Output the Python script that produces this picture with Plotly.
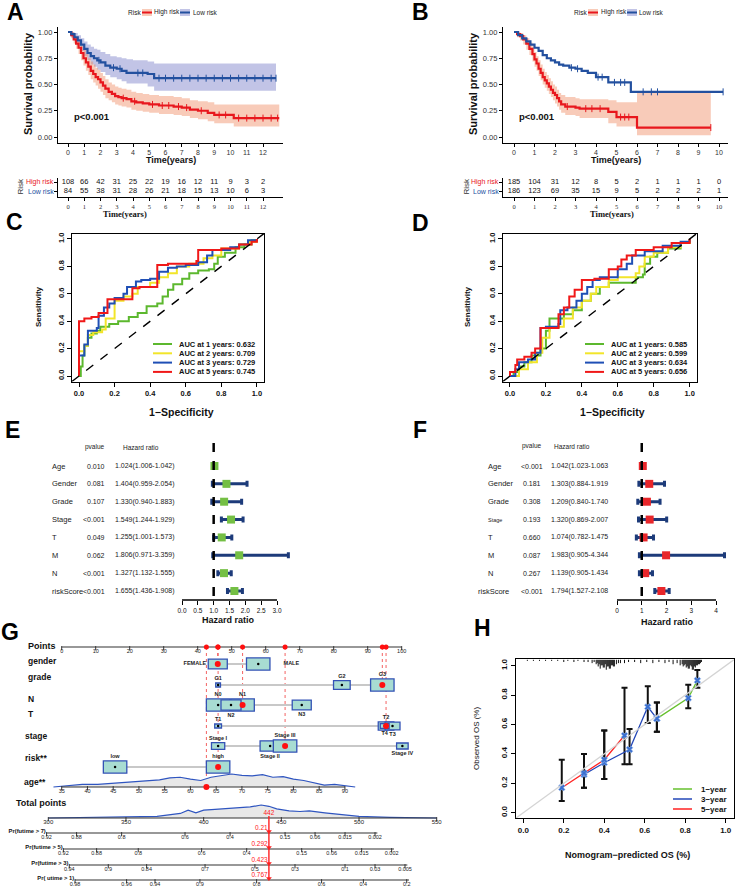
import plotly.graph_objects as go

W, H = 735, 887
FONT = "Liberation Sans"
NARROW = "Liberation Sans Narrow"
RED = "#e8171d"
BLUE = "#23509f"
HIGH_BAND = "rgba(240,140,100,0.45)"
LOW_BAND = "rgba(110,115,195,0.42)"

# ========================= DATA =========================
# ---- Panel A : Kaplan-Meier ----
kmA_high_t = [0, 0.2, 0.35, 0.5, 0.65, 0.8, 0.95, 1.1, 1.25, 1.4, 1.55, 1.7, 1.85, 2.0, 2.15, 2.3, 2.5, 2.7, 2.9, 3.1,
              3.3, 3.6, 3.9, 4.2, 4.6, 5.0, 5.6, 6.5, 7.0, 7.5, 8.0, 8.6, 9.0, 10.2, 13.0]
kmA_high_s = [1.0, 0.97, 0.93, 0.89, 0.85, 0.80, 0.75, 0.71, 0.67, 0.63, 0.60, 0.57, 0.55, 0.52, 0.49, 0.46, 0.43, 0.41, 0.39, 0.38,
              0.37, 0.36, 0.34, 0.33, 0.32, 0.31, 0.30, 0.29, 0.28, 0.26, 0.25, 0.23, 0.21, 0.18, 0.18]
kmA_high_up = [1.0, 1.0, 0.97, 0.94, 0.91, 0.87, 0.83, 0.79, 0.75, 0.72, 0.69, 0.66, 0.64, 0.61, 0.58, 0.55, 0.52, 0.50, 0.48, 0.47,
               0.46, 0.45, 0.43, 0.42, 0.41, 0.40, 0.39, 0.38, 0.37, 0.35, 0.34, 0.33, 0.31, 0.31, 0.31]
kmA_high_lo = [1.0, 0.94, 0.89, 0.84, 0.79, 0.73, 0.68, 0.63, 0.59, 0.55, 0.52, 0.49, 0.46, 0.43, 0.40, 0.37, 0.35, 0.33, 0.31, 0.30,
               0.29, 0.28, 0.26, 0.25, 0.24, 0.23, 0.22, 0.21, 0.20, 0.18, 0.17, 0.15, 0.13, 0.10, 0.10]
kmA_high_cens = [3.4, 4.1, 5.2, 5.8, 6.2, 6.8, 7.3, 8.2, 9.3, 9.7, 10.5, 11.0, 11.5, 12.0, 12.5, 12.9]
kmA_low_t = [0, 0.2, 0.4, 0.6, 0.8, 1.0, 1.2, 1.4, 1.6, 1.8, 2.0, 2.3, 2.6, 3.0, 3.3, 3.6, 4.0, 4.9, 5.3, 12.8]
kmA_low_s = [1.0, 0.98, 0.95, 0.92, 0.88, 0.84, 0.80, 0.77, 0.75, 0.73, 0.71, 0.68, 0.66, 0.65, 0.63, 0.61, 0.61, 0.60, 0.56, 0.56]
kmA_low_up = [1.0, 1.0, 0.99, 0.97, 0.94, 0.91, 0.88, 0.86, 0.84, 0.83, 0.81, 0.79, 0.77, 0.76, 0.75, 0.74, 0.73, 0.72, 0.70, 0.70]
kmA_low_lo = [1.0, 0.95, 0.91, 0.87, 0.82, 0.77, 0.73, 0.69, 0.67, 0.64, 0.62, 0.59, 0.57, 0.55, 0.53, 0.51, 0.51, 0.48, 0.44, 0.44]
kmA_low_cens = [1.9, 2.8, 3.2, 4.3, 4.6, 5.6, 6.0, 6.5, 7.0, 7.5, 8.0, 8.5, 9.0, 9.5, 10.0, 10.5, 11.0, 11.5, 12.0, 12.5, 12.8]

# ---- Panel B : Kaplan-Meier ----
kmB_high_t = [0, 0.15, 0.3, 0.45, 0.6, 0.75, 0.9, 1.0, 1.1, 1.2, 1.3, 1.4, 1.5, 1.6, 1.7, 1.8, 1.9, 2.0, 2.1, 2.2,
              2.3, 2.5, 3.0, 3.2, 4.6, 5.0, 6.0, 9.6]
kmB_high_s = [1.0, 0.98, 0.96, 0.93, 0.89, 0.84, 0.79, 0.74, 0.70, 0.65, 0.61, 0.57, 0.54, 0.51, 0.48, 0.45, 0.42, 0.40, 0.37, 0.34,
              0.31, 0.29, 0.28, 0.27, 0.24, 0.19, 0.09, 0.09]
kmB_high_up = [1.0, 1.0, 0.99, 0.97, 0.94, 0.90, 0.86, 0.81, 0.77, 0.73, 0.69, 0.65, 0.62, 0.59, 0.56, 0.53, 0.50, 0.48, 0.45, 0.42,
               0.40, 0.38, 0.37, 0.36, 0.35, 0.33, 0.43, 0.43]
kmB_high_lo = [1.0, 0.95, 0.92, 0.88, 0.83, 0.78, 0.72, 0.67, 0.63, 0.58, 0.54, 0.50, 0.47, 0.44, 0.41, 0.38, 0.35, 0.32, 0.29, 0.26,
               0.23, 0.21, 0.20, 0.18, 0.13, 0.10, 0.016, 0.016]
kmB_high_cens = [2.6, 3.5, 3.8, 4.2, 5.2, 5.4, 5.6, 9.6]
kmB_low_t = [0, 0.2, 0.4, 0.6, 0.8, 1.0, 1.2, 1.4, 1.6, 1.8, 2.0, 2.2, 2.4, 2.7, 3.0, 3.3, 3.6, 4.0, 4.6, 5.7, 10.2]
kmB_low_s = [1.0, 0.97, 0.94, 0.91, 0.88, 0.85, 0.82, 0.78, 0.75, 0.73, 0.71, 0.69, 0.68, 0.66, 0.65, 0.63, 0.61, 0.57, 0.52, 0.43, 0.43]
kmB_low_cens = [2.8, 3.1, 4.1, 4.3, 4.9, 5.2, 5.4, 6.3, 6.7, 7.0, 10.2]

# ---- risk tables ----
riskA_times = list(range(13))
riskA_high = [108, 66, 42, 31, 25, 22, 19, 16, 12, 11, 9, 3, 2]
riskA_low = [84, 55, 38, 31, 28, 26, 21, 18, 15, 13, 10, 6, 3]
riskB_times = list(range(11))
riskB_high = [185, 104, 31, 12, 8, 5, 2, 1, 1, 1, 0]
riskB_low = [186, 123, 69, 35, 15, 9, 5, 2, 2, 2, 1]

# ---- Panel C : time-dependent ROC ----
roc_years = [1, 2, 3, 5]
aucC = [0.632, 0.709, 0.729, 0.745]
rocC_1_x = [0, 0.01, 0.02, 0.03, 0.05, 0.07, 0.10, 0.12, 0.17, 0.22, 0.28, 0.33, 0.38, 0.44, 0.47, 0.50, 0.53, 0.58, 0.62, 0.67, 0.73, 0.76, 0.78, 0.82, 0.88, 0.93, 0.97, 1.0]
rocC_1_y = [0, 0.07, 0.15, 0.22, 0.28, 0.31, 0.33, 0.36, 0.38, 0.40, 0.43, 0.46, 0.51, 0.53, 0.58, 0.63, 0.67, 0.71, 0.75, 0.77, 0.78, 0.82, 0.87, 0.90, 0.94, 0.96, 0.99, 1.0]
rocC_2_x = [0, 0.0, 0.03, 0.05, 0.08, 0.13, 0.15, 0.20, 0.25, 0.30, 0.33, 0.40, 0.45, 0.50, 0.55, 0.62, 0.70, 0.75, 0.80, 0.90, 0.96, 1.0]
rocC_2_y = [0, 0.18, 0.22, 0.30, 0.32, 0.34, 0.42, 0.55, 0.58, 0.60, 0.65, 0.68, 0.72, 0.75, 0.80, 0.82, 0.86, 0.88, 0.93, 0.96, 0.98, 1.0]
rocC_3_x = [0, 0.0, 0.02, 0.03, 0.05, 0.10, 0.11, 0.14, 0.17, 0.20, 0.25, 0.27, 0.32, 0.35, 0.40, 0.45, 0.50, 0.55, 0.60, 0.67, 0.72, 0.75, 0.85, 0.90, 0.95, 1.0]
rocC_3_y = [0, 0.15, 0.15, 0.23, 0.33, 0.35, 0.44, 0.50, 0.53, 0.57, 0.60, 0.65, 0.69, 0.70, 0.71, 0.76, 0.79, 0.80, 0.81, 0.83, 0.88, 0.92, 0.94, 0.96, 0.99, 1.0]
rocC_5_x = [0, 0.0, 0.03, 0.07, 0.11, 0.16, 0.30, 0.34, 0.44, 0.50, 0.60, 0.66, 0.67, 0.80, 0.90, 0.97, 1.0]
rocC_5_y = [0, 0.40, 0.42, 0.43, 0.46, 0.56, 0.64, 0.65, 0.81, 0.82, 0.82, 0.84, 0.92, 0.93, 0.96, 0.98, 1.0]

# ---- Panel D : time-dependent ROC ----
aucD = [0.585, 0.599, 0.634, 0.656]
rocD_1_x = [0, 0.02, 0.05, 0.08, 0.12, 0.17, 0.20, 0.22, 0.27, 0.30, 0.35, 0.40, 0.45, 0.50, 0.55, 0.65, 0.70, 0.74, 0.75, 0.78, 0.82, 0.88, 0.95, 1.0]
rocD_1_y = [0, 0.03, 0.07, 0.10, 0.15, 0.20, 0.33, 0.42, 0.42, 0.45, 0.48, 0.55, 0.60, 0.65, 0.68, 0.68, 0.72, 0.74, 0.82, 0.87, 0.90, 0.93, 0.97, 1.0]
rocD_2_x = [0, 0.05, 0.10, 0.15, 0.18, 0.22, 0.27, 0.30, 0.35, 0.40, 0.45, 0.48, 0.55, 0.60, 0.70, 0.72, 0.75, 0.80, 0.88, 0.95, 1.0]
rocD_2_y = [0, 0.05, 0.10, 0.17, 0.28, 0.35, 0.36, 0.42, 0.50, 0.55, 0.60, 0.65, 0.70, 0.72, 0.75, 0.80, 0.87, 0.90, 0.94, 0.97, 1.0]
rocD_3_x = [0, 0.03, 0.05, 0.10, 0.14, 0.17, 0.17, 0.20, 0.27, 0.28, 0.32, 0.37, 0.40, 0.43, 0.46, 0.50, 0.60, 0.65, 0.68, 0.75, 0.85, 0.95, 1.0]
rocD_3_y = [0, 0.05, 0.10, 0.12, 0.17, 0.22, 0.35, 0.36, 0.38, 0.48, 0.50, 0.55, 0.60, 0.65, 0.70, 0.72, 0.78, 0.82, 0.88, 0.91, 0.95, 0.98, 1.0]
rocD_5_x = [0, 0.0, 0.03, 0.04, 0.08, 0.12, 0.14, 0.17, 0.17, 0.27, 0.27, 0.30, 0.33, 0.36, 0.40, 0.47, 0.55, 0.60, 0.62, 0.65, 0.70, 0.80, 0.90, 1.0]
rocD_5_y = [0, 0.03, 0.08, 0.12, 0.14, 0.17, 0.20, 0.23, 0.35, 0.38, 0.45, 0.50, 0.58, 0.63, 0.70, 0.71, 0.78, 0.80, 0.85, 0.88, 0.92, 0.94, 0.97, 1.0]

# ---- Panels E/F : Cox forest plots ----
forest_vars = ["Age", "Gender", "Grade", "Stage", "T", "M", "N", "riskScore"]
E_p = ["0.010", "0.081", "0.107", "<0.001", "0.049", "0.062", "<0.001", "<0.001"]
E_hr = [1.024, 1.404, 1.330, 1.549, 1.255, 1.806, 1.327, 1.655]
E_lo = [1.006, 0.959, 0.940, 1.244, 1.001, 0.971, 1.132, 1.436]
E_hi = [1.042, 2.054, 1.883, 1.929, 1.573, 3.359, 1.555, 1.908]
E_ticks = [0.0, 0.5, 1.0, 1.5, 2.0, 2.5, 3.0]
F_p = ["<0.001", "0.181", "0.308", "0.193", "0.660", "0.087", "0.267", "<0.001"]
F_hr = [1.042, 1.303, 1.209, 1.320, 1.074, 1.983, 1.139, 1.794]
F_lo = [1.023, 0.884, 0.840, 0.869, 0.782, 0.905, 0.905, 1.527]
F_hi = [1.063, 1.919, 1.740, 2.007, 1.475, 4.344, 1.434, 2.108]
F_ticks = [0, 1, 2, 3, 4]

# ---- Panel G : nomogram ----
points_ticks = [0, 10, 20, 30, 40, 50, 60, 70, 80, 90, 100]
gender_cats = ["FEMALE", "MALE"]; gender_pts = [45.9, 57.8]; gender_w = [5.6, 6.9]
grade_cats = ["G1", "G2", "G3"]; grade_pts = [46.0, 82.4, 94.3]; grade_w = [1.4, 4.9, 6.9]
N_cats = ["N0", "N1", "N2", "N3"]; N_pts = [46.0, 53.2, 49.8, 70.6]; N_w = [6.9, 6.9, 5.9, 5.6]
T_cats = ["T1", "T2", "T3", "T4"]; T_pts = [46.0, 95.4, 97.3, 95.0]; T_w = [2.0, 4.6, 4.4, 2.6]
stage_cats = ["Stage I", "Stage II", "Stage III", "Stage IV"]; stage_pts = [46.0, 61.3, 65.7, 100.2]; stage_w = [3.9, 5.9, 6.9, 3.4]
risk_cats = ["low", "high"]; risk_pts = [15.7, 46.0]; risk_w = [6.9, 6.9]
age_ticks = [35, 40, 45, 50, 55, 60, 65, 70, 75, 80, 85, 90]
age_pts_per_year = 1.5145
age_dens_x = [33.4, 36, 39, 42, 45, 48, 51, 54, 56, 58, 60, 62, 64, 66, 68, 70, 72, 74, 76, 78, 80, 82, 84, 86, 88, 90, 92]
age_dens_h = [0, 0.1, 0.2, 0.2, 0.3, 0.38, 0.45, 0.55, 0.7, 0.75, 0.6, 0.5, 0.75, 0.85, 1.0, 0.9, 0.85, 0.95, 0.75, 0.8, 0.6, 0.5, 0.3, 0.15, 0.2, 0.1, 0]
patient_pts = {"gender": 45.9, "grade": 94.3, "N": 53.2, "T": 95.4, "stage": 65.7, "risk": 46.0}
patient_age = 63.1
total_ticks = [300, 350, 400, 450, 500, 550]
total_dens_x = [300, 330, 350, 370, 385, 390, 395, 400, 405, 412, 420, 430, 437, 442, 447, 455, 462, 468, 478, 490, 500, 520, 550]
total_dens_h = [0, 0.03, 0.08, 0.12, 0.35, 0.6, 0.4, 0.6, 0.65, 0.7, 0.8, 0.85, 1.0, 0.9, 0.7, 0.55, 0.5, 0.55, 0.4, 0.25, 0.12, 0.05, 0]
total_pred = 442
pr_names = ["Pr(futime > 7)", "Pr(futime > 5)", "Pr(futime > 3)", "Pr( utime > 1)"]
pr7_pos = [298.9, 318.2, 347.2, 388.0, 417.0, 452.4, 471.7, 491.0, 510.3]
pr7_lab = ["0.92", "0.88", "0.8", "0.6", "0.4", "0.15", "0.06", "0.015", "0.002"]
pr5_pos = [309.7, 331.1, 357.9, 398.7, 427.7, 463.1, 482.4, 501.7, 521.0]
pr5_lab = ["0.92", "0.88", "0.8", "0.6", "0.4", "0.15", "0.06", "0.015", "0.002"]
pr3_pos = [313.5, 338.6, 363.3, 400.9, 433.0, 458.8, 491.0, 510.3, 529.6]
pr3_lab = ["0.94", "0.9", "0.84", "0.7", "0.5", "0.3", "0.1", "0.03", "0.005"]
pr1_pos = [317.2, 350.4, 368.7, 397.6, 434.1, 475.9, 502.8, 530.7]
pr1_lab = ["0.98", "0.96", "0.94", "0.9", "0.8", "0.6", "0.4", "0.2"]
pr_pred = ["0.21", "0.292", "0.423", "0.767"]

# ---- Panel H : calibration ----
cal1_x = [0.66, 0.815, 0.86]; cal1_y = [0.64, 0.78, 0.90]; cal1_lo = [0.55, 0.71, 0.85]; cal1_hi = [0.75, 0.87, 0.97]
cal3_x = [0.30, 0.40, 0.525, 0.615, 0.66]; cal3_y = [0.26, 0.34, 0.43, 0.72, 0.64]
cal3_lo = [0.17, 0.23, 0.33, 0.61, 0.55]; cal3_hi = [0.40, 0.56, 0.57, 0.86, 0.75]
cal5_x = [0.19, 0.30, 0.40, 0.50]; cal5_y = [0.17, 0.27, 0.36, 0.525]
cal5_lo = [0.08, 0.17, 0.23, 0.33]; cal5_hi = [0.36, 0.40, 0.56, 0.85]
rug_x = [0.02, 0.05, 0.08, 0.11, 0.14, 0.17, 0.20, 0.22, 0.25, 0.27, 0.30, 0.32, 0.34, 0.35, 0.36, 0.365, 0.37, 0.375, 0.38,
         0.385, 0.39, 0.395, 0.40, 0.405, 0.41, 0.415, 0.42, 0.425, 0.43, 0.435, 0.44, 0.445, 0.45, 0.46, 0.47, 0.48, 0.50,
         0.52, 0.55, 0.58, 0.61, 0.64, 0.67, 0.70, 0.72, 0.74, 0.76, 0.775, 0.785, 0.79, 0.795, 0.80, 0.805, 0.81, 0.815,
         0.82, 0.825, 0.83, 0.835, 0.84, 0.845, 0.85, 0.855, 0.86, 0.865, 0.87, 0.875, 0.88]
rug_n = [1, 1, 1, 1, 1, 1, 2, 1, 2, 1, 2, 2, 3, 2, 4, 3, 6, 4, 8, 5, 5, 7, 7, 4, 9, 6, 6, 8, 8, 5, 5, 6, 6, 4, 3, 3, 3,
         2, 2, 3, 2, 3, 2, 3, 2, 4, 3, 5, 4, 6, 5, 4, 7, 6, 8, 8, 5, 6, 9, 9, 6, 7, 5, 5, 4, 4, 3, 2]
cal_names = ["1\u2212year", "3\u2212year", "5\u2212year"]


# ========================= HELPERS =========================
def dom_x(a, b):
    return [a / W, b / W]


def dom_y(top, bot):
    return [1 - bot / H, 1 - top / H]


def lin_range(a, b, p0, v0, p1, v1):
    s = (p1 - p0) / (v1 - v0)
    return [v0 + (a - p0) / s, v0 + (b - p0) / s]


def PX(px):
    return px / W


def PY(py):
    return 1 - py / H


fig = go.Figure()
annotations = []
shapes = []


def add(tr):
    tr.update(hoverinfo="skip", showlegend=False)
    fig.add_trace(tr)


def ann(text, x, y, size=8, color="#000", xanchor="center", yanchor="middle", angle=0,
        family=FONT, bold=False, xref="paper", yref="paper"):
    if bold:
        text = "<b>" + text + "</b>"
    if xref == "paper":
        x = PX(x)
    if yref == "paper":
        y = PY(y)
    annotations.append(dict(text=text, x=x, y=y, xref=xref, yref=yref, showarrow=False,
                            xanchor=xanchor, yanchor=yanchor, textangle=angle, borderpad=0,
                            font=dict(size=size, color=color, family=family)))


def pline(x0, y0, x1, y1, color="#000", width=1, dash="solid"):
    shapes.append(dict(type="line", xref="paper", yref="paper", x0=PX(x0), y0=PY(y0), x1=PX(x1), y1=PY(y1),
                       line=dict(color=color, width=width, dash=dash)))


def prect(x0, y0, x1, y1, fill, color=None, width=0):
    shapes.append(dict(type="rect", xref="paper", yref="paper", x0=PX(x0), y0=PY(y0), x1=PX(x1), y1=PY(y1),
                       fillcolor=fill, line=dict(color=color or fill, width=width)))


def step_at(ts, ss, t):
    v = ss[0]
    for ti, si in zip(ts, ss):
        if ti <= t:
            v = si
        else:
            break
    return v


def axis_base(**kw):
    d = dict(showgrid=False, zeroline=False, fixedrange=True)
    d.update(kw)
    return d


layout_axes = {}

# ========================= PANELS A / B =========================
def km_axes(xname, yname, xdom, xref_pts, xticks):
    (a, b), (p0, v0, p1, v1) = xdom, xref_pts
    layout_axes["x" + xname] = axis_base(
        domain=dom_x(a, b), range=lin_range(a, b, p0, v0, p1, v1), anchor="y" + yname.replace("axis", ""),
        showline=True, linecolor="black", linewidth=1.3, ticks="outside", ticklen=2.5, tickcolor="black",
        tickvals=xticks, ticktext=[str(v) for v in xticks], tickfont=dict(size=7, color="#333", family=FONT))
    layout_axes["y" + yname] = axis_base(
        domain=dom_y(27, 143), range=lin_range(143, 27, 137, 0, 32, 1), anchor="x" + xname.replace("axis", ""),
        showline=True, linecolor="black", linewidth=1.3, ticks="outside", ticklen=3, tickcolor="black",
        tickvals=[0, 0.25, 0.5, 0.75, 1.0], ticktext=["0.00", "0.25", "0.50", "0.75", "1.00"],
        tickfont=dict(size=7.5, color="#333", family=FONT))


km_axes("axis", "axis", (58, 283), (68, 0, 263, 12), riskA_times)
km_axes("axis2", "axis2", (503, 728), (514, 0, 719, 10), riskB_times)


def km_panel(xa, ya, bands, curves):
    for t, up, lo, col in bands:
        add(go.Scatter(x=t, y=up, mode="lines", line=dict(width=0, shape="hv"), xaxis=xa, yaxis=ya))
        add(go.Scatter(x=t, y=lo, mode="lines", line=dict(width=0, shape="hv"), fill="tonexty",
                       fillcolor=col, xaxis=xa, yaxis=ya))
    for t, s, cens, col in curves:
        add(go.Scatter(x=t, y=s, mode="lines", line=dict(width=2.2, shape="hv", color=col), xaxis=xa, yaxis=ya))
        add(go.Scatter(x=cens, y=[step_at(t, s, c) for c in cens], mode="markers", xaxis=xa, yaxis=ya,
                       marker=dict(symbol="line-ns", size=5, line=dict(width=1, color=col))))


km_panel("x", "y",
         [(kmA_low_t, kmA_low_up, kmA_low_lo, LOW_BAND), (kmA_high_t, kmA_high_up, kmA_high_lo, HIGH_BAND)],
         [(kmA_high_t, kmA_high_s, kmA_high_cens, RED), (kmA_low_t, kmA_low_s, kmA_low_cens, BLUE)])
km_panel("x2", "y2",
         [(kmB_high_t, kmB_high_up, kmB_high_lo, HIGH_BAND)],
         [(kmB_high_t, kmB_high_s, kmB_high_cens, RED), (kmB_low_t, kmB_low_s, kmB_low_cens, BLUE)])

ann("Survival probability", 28, 84, size=11, bold=True, angle=-90, color="#111")
ann("Survival probability", 473, 84, size=11, bold=True, angle=-90, color="#111")
ann("Time(years)", 171, 160, size=9, bold=True, color="#111")
ann("Time(years)", 616, 160, size=9, bold=True, color="#111")
ann("p<0.001", 73, 117, size=9.5, bold=True, xanchor="left", color="#111")
ann("p<0.001", 518, 117, size=9.5, bold=True, xanchor="left", color="#111")

# legends at top
for (rx, s1, t1, s2, t2, ly) in [(127, 142, 153, 180, 192, 12.5), (573, 588, 600, 627, 638, 12.5)]:
    ann("Risk", rx, ly, size=6.5, xanchor="left", color="#222")
    prect(s1, ly - 3.5, s1 + 10, ly + 3.5, HIGH_BAND)
    pline(s1, ly, s1 + 10, ly, RED, 2)
    ann("High risk", t1, ly, size=6.5, xanchor="left", color="#222")
    prect(s2, ly - 3.5, s2 + 10, ly + 3.5, LOW_BAND)
    pline(s2, ly, s2 + 10, ly, BLUE, 2)
    ann("Low risk", t2, ly, size=6.5, xanchor="left", color="#222")


# ---- risk tables ----
def risk_table(xa, ya, xdom, xref_pts, times, high, low, lab_x, risk_x, title_x):
    (a, b), (p0, v0, p1, v1) = xdom, xref_pts
    layout_axes["xaxis" + xa[1:]] = axis_base(
        domain=dom_x(a, b), range=lin_range(a, b, p0, v0, p1, v1), anchor=ya,
        showline=True, linecolor="black", linewidth=1.3, ticks="outside", ticklen=3, tickcolor="black",
        tickvals=times, ticktext=[str(v) for v in times], tickfont=dict(size=6.5, color="#333", family=NARROW))
    layout_axes["yaxis" + ya[1:]] = axis_base(
        domain=dom_y(178, 197), range=lin_range(197, 178, 191, 0, 182, 1), anchor=xa,
        showline=True, linecolor="black", linewidth=1.3, ticks="outside", ticklen=3, tickcolor="black",
        tickvals=[0, 1], showticklabels=False)
    add(go.Scatter(x=times, y=[1] * len(times), mode="text", text=[str(v) for v in high],
                   textfont=dict(size=7.5, color="#111", family=FONT), xaxis=xa, yaxis=ya))
    add(go.Scatter(x=times, y=[0] * len(times), mode="text", text=[str(v) for v in low],
                   textfont=dict(size=7.5, color="#111", family=FONT), xaxis=xa, yaxis=ya))
    ann("High risk", lab_x, 182, size=7, color=RED, xanchor="right")
    ann("Low risk", lab_x, 191, size=7, color=BLUE, xanchor="right")
    ann("Risk", risk_x, 186.5, size=8, color="#333", angle=-90)
    ann("Time(years)", title_x, 214, size=8.5, bold=True, family=NARROW, color="#111")


risk_table("x3", "y3", (58, 283), (68, 0, 263, 12), riskA_times, riskA_high, riskA_low, 55, 20, 125)
risk_table("x4", "y4", (503, 728), (514, 0, 719, 10), riskB_times, riskB_high, riskB_low, 500, 466, 612)

# ========================= PANELS C / D =========================
ROC_COLS = ["#5cb82e", "#f2e52a", "#1f4fb5", "#f01818"]


def roc_panel(xa, ya, xdom, curves, aucs, leg_x0, title_cx, sens_x):
    a, b = xdom
    bold_ticks = ["<b>%.1f</b>" % v for v in [0, 0.2, 0.4, 0.6, 0.8, 1.0]]
    layout_axes["xaxis" + xa[1:]] = axis_base(
        domain=dom_x(a, b), range=[-0.04, 1.04], anchor=ya, showline=True, mirror=True, linecolor="black",
        linewidth=1.3, ticks="outside", ticklen=4, tickcolor="black", tickvals=[0, 0.2, 0.4, 0.6, 0.8, 1.0],
        ticktext=bold_ticks, tickfont=dict(size=7.5, color="#111", family=FONT))
    layout_axes["yaxis" + ya[1:]] = axis_base(
        domain=dom_y(233.5, 381.5), range=[-0.04, 1.04], anchor=xa, showline=True, mirror=True,
        linecolor="black", linewidth=1.3, ticks="outside", ticklen=4, tickcolor="black",
        tickvals=[0, 0.2, 0.4, 0.6, 0.8, 1.0], ticktext=bold_ticks, tickangle=-90,
        tickfont=dict(size=7.5, color="#111", family=FONT))
    shapes.append(dict(type="line", xref=xa, yref=ya, x0=-0.04, y0=-0.04, x1=1.04, y1=1.04,
                       line=dict(color="black", width=1.4, dash="dash")))
    for (cx, cy), col in zip(curves, ROC_COLS):
        add(go.Scatter(x=cx, y=cy, mode="lines", line=dict(color=col, width=2, shape="hv"), xaxis=xa, yaxis=ya))
    for i, (yr, auc) in enumerate(zip(roc_years, aucs)):
        ly = 344 + i * 9.3
        pline(leg_x0, ly, leg_x0 + 19, ly, ROC_COLS[i], 2)
        ann("AUC at %d years: %.3f" % (yr, auc), leg_x0 + 25, ly, size=7.5, bold=True, xanchor="left", color="#111")
    ann("1\u2212Specificity", title_cx, 412, size=10.5, bold=True, color="#111")
    ann("Sensitivity", sens_x, 307, size=8, bold=True, angle=-90, color="#111")


roc_panel("x5", "y5", (71.9, 264.0),
          [(rocC_1_x, rocC_1_y), (rocC_2_x, rocC_2_y), (rocC_3_x, rocC_3_y), (rocC_5_x, rocC_5_y)],
          aucC, 153, 181, 38)
roc_panel("x6", "y6", (502.8, 696.8),
          [(rocD_1_x, rocD_1_y), (rocD_2_x, rocD_2_y), (rocD_3_x, rocD_3_y), (rocD_5_x, rocD_5_y)],
          aucD, 585, 612, 467)

# ========================= PANELS E / F =========================
NAVY = "#1d3b7a"


def forest_panel(xa, ya, xdom, xref_pts, ticks, tickfmt, hr, lo, hi, mcol):
    (a, b), (p0, v0, p1, v1) = xdom, xref_pts
    layout_axes["xaxis" + xa[1:]] = axis_base(
        domain=dom_x(a, b), range=lin_range(a, b, p0, v0, p1, v1), anchor=ya, showline=False,
        ticks="outside", ticklen=4, tickcolor="black", tickwidth=1.2, tickvals=ticks,
        ticktext=[tickfmt % v for v in ticks], tickfont=dict(size=6.5, color="#111", family=FONT))
    layout_axes["yaxis" + ya[1:]] = axis_base(
        domain=dom_y(440, 600), range=lin_range(600, 440, 466, 1, 591, 8), anchor=xa, visible=False)
    shapes.append(dict(type="line", xref=xa, yref=ya + " domain", x0=ticks[0], x1=ticks[-1], y0=0, y1=0,
                       line=dict(color="black", width=1.5)))
    shapes.append(dict(type="line", xref=xa, yref="paper", x0=1, x1=1, y0=PY(443), y1=PY(600),
                       line=dict(color="black", width=2.5, dash="dash")))
    rows = list(range(1, len(hr) + 1))
    add(go.Scatter(x=hr, y=rows, mode="markers", xaxis=xa, yaxis=ya,
                   marker=dict(symbol="square", size=8, color=mcol, line=dict(width=0)),
                   error_x=dict(type="data", symmetric=False, array=[h - m for h, m in zip(hi, hr)],
                                arrayminus=[m - l for m, l in zip(hr, lo)], color=NAVY, thickness=3, width=3)))


forest_panel("x7", "y7", (176, 295), (182, 0, 277, 3), E_ticks, "%.1f", E_hr, E_lo, E_hi, "#74bf44")
forest_panel("x8", "y8", (606, 732), (617, 0, 716, 4), F_ticks, "%d", F_hr, F_lo, F_hi, "#e8262a")

for i, v in enumerate(forest_vars):
    r = i + 1
    ann(v, 51, 0, size=7.5, xanchor="left", color="#1a1a1a", yref="y7")
    annotations[-1]["y"] = r
    ann(E_p[i], 106, 0, size=7, xanchor="right", color="#1a1a1a", yref="y7")
    annotations[-1]["y"] = r
    ann("%.3f(%.3f-%.3f)" % (E_hr[i], E_lo[i], E_hi[i]), 114, 0, size=7, xanchor="left", color="#1a1a1a", yref="y7")
    annotations[-1]["y"] = r
    fx = 477 if v == "riskScore" else 487
    ann(v, fx, 0, size=5.5 if v == "Stage" else 7.5, xanchor="left", color="#1a1a1a", yref="y8")
    annotations[-1]["y"] = r
    ann(F_p[i], 532, 0, size=7, color="#1a1a1a", yref="y8")
    annotations[-1]["y"] = r
    ann("%.3f(%.3f-%.3f" % (F_hr[i], F_lo[i], F_hi[i]), 550, 0, size=7, xanchor="left", color="#1a1a1a", yref="y8")
    annotations[-1]["y"] = r

ann("pvalue", 95, 447, size=6.5, color="#1a1a1a")
ann("Hazard ratio", 141, 447, size=6.5, color="#1a1a1a")
ann("pvalue", 532, 446, size=6.5, color="#1a1a1a")
ann("Hazard ratio", 572, 446, size=6.5, color="#1a1a1a")
ann("Hazard ratio", 228, 620, size=9, bold=True, color="#111")
ann("Hazard ratio", 667, 622, size=9, bold=True, color="#111")

# ========================= PANEL G : nomogram =========================
layout_axes["xaxis9"] = axis_base(domain=dom_x(0, 470), range=lin_range(0, 470, 61.7, 0, 401.7, 100),
                                  anchor="y9", visible=False)
layout_axes["yaxis9"] = axis_base(domain=dom_y(640, 887), range=[887, 640], anchor="x9", visible=False)
layout_axes["xaxis10"] = axis_base(domain=dom_x(0, 470), range=lin_range(0, 470, 48.3, 300, 436.7, 550),
                                   anchor="y10", visible=False)
layout_axes["yaxis10"] = axis_base(domain=dom_y(640, 887), range=[887, 640], anchor="x10", visible=False)

AX_COL = "#333"
NOM_Y = {"points": 647, "gender": 664, "grade": 685, "N": 705, "T": 726, "stage": 746, "risk": 767,
         "age": 787, "total": 818, "pr": [833, 849, 865, 880]}


def scale(xa, ya, yline, pos, labs, x0=None, x1=None, size=5.5, dy=4.6):
    x0 = pos[0] if x0 is None else x0
    x1 = pos[-1] if x1 is None else x1
    add(go.Scatter(x=[x0, x1], y=[yline, yline], mode="lines", line=dict(color=AX_COL, width=1.2), xaxis=xa, yaxis=ya))
    add(go.Scatter(x=pos, y=[yline + 1.2] * len(pos), mode="markers", xaxis=xa, yaxis=ya,
                   marker=dict(symbol="line-ns", size=3, line=dict(width=1, color=AX_COL))))
    add(go.Scatter(x=pos, y=[yline + dy] * len(pos), mode="text", text=labs, xaxis=xa, yaxis=ya,
                   textfont=dict(size=size, color="#222", family=FONT)))


# points axis
scale("x9", "y9", NOM_Y["points"], points_ticks, [str(v) for v in points_ticks])
ann("Points", 27, 646, size=9, bold=True, xanchor="left", color="#111")

# patient dotted guides
age_patient_pts = (patient_age - age_ticks[0]) * age_pts_per_year
guide = [(patient_pts[k], NOM_Y[k]) for k in patient_pts] + [(age_patient_pts, NOM_Y["age"])]
for px_, yrow in guide:
    shapes.append(dict(type="line", xref="x9", yref="y9", x0=px_, x1=px_, y0=NOM_Y["points"], y1=yrow,
                       line=dict(color="rgba(240,60,60,0.8)", width=1, dash="dot"), layer="below"))

BOX_FILL = "#a8dcd2"
BOX_LINE = "#3352b5"
nom_rows = [
    ("gender", gender_cats, gender_pts, gender_w, ["left", "right"]),
    ("grade", grade_cats, grade_pts, grade_w, ["above", "above", "above"]),
    ("N", N_cats, N_pts, N_w, ["above", "above", "below", "below"]),
    ("T", T_cats, T_pts, T_w, ["above", "above", "below", "below"]),
    ("stage", stage_cats, stage_pts, stage_w, ["above", "below", "above", "below"]),
    ("risk", risk_cats, risk_pts, risk_w, ["above", "above"]),
]
row_titles = {"gender": ("gender", 27, 661), "grade": ("grade", 27, 677), "N": ("N", 27, 699),
              "T": ("T", 27, 714), "stage": ("stage", 24, 736), "risk": ("risk**", 24, 758)}
PX_PER_PT = 3.4
for key, cats, pts, wts, places in nom_rows:
    yr = NOM_Y[key]
    shapes.append(dict(type="line", xref="x9", yref="y9", x0=min(pts), x1=max(pts), y0=yr, y1=yr,
                       line=dict(color="#c8c8c8", width=2), layer="below"))
    for c, p, w, pl in zip(cats, pts, wts, places):
        hpx = max(4, min(12.5, w * PX_PER_PT * 0.52))
        shapes.append(dict(type="rect", xref="x9", yref="y9", x0=p - w / 2, x1=p + w / 2, y0=yr - hpx / 2,
                           y1=yr + hpx / 2, fillcolor=BOX_FILL, line=dict(color=BOX_LINE, width=1.3), layer="below"))
        if pl == "above":
            tx, ty, tp = p, yr - hpx / 2 - 4, "middle center"
        elif pl == "below":
            tx, ty, tp = p, yr + hpx / 2 + 5, "middle center"
        elif pl == "left":
            tx, ty, tp = p - w / 2 - 0.6, yr, "middle left"
        else:
            tx, ty, tp = p + w / 2 + 4, yr, "middle right"
        add(go.Scatter(x=[tx], y=[ty], mode="text", text=["<b>" + c + "</b>"], textposition=tp,
                       textfont=dict(size=5.5, color="#222", family=FONT), xaxis="x9", yaxis="y9"))
    add(go.Scatter(x=pts, y=[yr] * len(pts), mode="markers", xaxis="x9", yaxis="y9",
                   marker=dict(size=2.5, color="black")))
    add(go.Scatter(x=[patient_pts[key]], y=[yr], mode="markers", xaxis="x9", yaxis="y9",
                   marker=dict(size=6, color="#ff1010")))
    t, tx_, ty_ = row_titles[key]
    ann(t, tx_, ty_, size=8.5, bold=True, xanchor="left", color="#111")

# age row
age_y = NOM_Y["age"]
age_x_pts = [(a - age_ticks[0]) * age_pts_per_year for a in age_dens_x]
add(go.Scatter(x=age_x_pts, y=[age_y] * len(age_x_pts), mode="lines", line=dict(width=0), xaxis="x9", yaxis="y9"))
add(go.Scatter(x=age_x_pts, y=[age_y - h * 13 for h in age_dens_h], mode="lines", fill="tonexty",
               fillcolor="#e8e8e8", line=dict(color="#2f55c0", width=1.2), xaxis="x9", yaxis="y9"))
scale("x9", "y9", age_y, [(a - age_ticks[0]) * age_pts_per_year for a in age_ticks], [str(a) for a in age_ticks])
add(go.Scatter(x=[age_patient_pts], y=[age_y], mode="markers", marker=dict(size=6, color="#ff1010"),
               xaxis="x9", yaxis="y9"))
ann("age**", 23, 782, size=8.5, bold=True, xanchor="left", color="#111")

# red dots on the points axis
add(go.Scatter(x=[g[0] for g in guide], y=[NOM_Y["points"]] * len(guide), mode="markers",
               marker=dict(size=5, color="#ff1010"), xaxis="x9", yaxis="y9"))

# total points
tot_y = NOM_Y["total"]
add(go.Scatter(x=total_dens_x, y=[tot_y] * len(total_dens_x), mode="lines", line=dict(width=0), xaxis="x10", yaxis="y10"))
add(go.Scatter(x=total_dens_x, y=[tot_y - h * 13 for h in total_dens_h], mode="lines", fill="tonexty",
               fillcolor="#e8e8e8", line=dict(color="#2f55c0", width=1.2), xaxis="x10", yaxis="y10"))
scale("x10", "y10", tot_y, total_ticks, [str(v) for v in total_ticks], size=6)
ann("Total points", 15, 803, size=9, bold=True, xanchor="left", color="#111")

pr_sets = [(pr7_pos, pr7_lab), (pr5_pos, pr5_lab), (pr3_pos, pr3_lab), (pr1_pos, pr1_lab)]
for (pos, lab), name, yl, pv in zip(pr_sets, pr_names, NOM_Y["pr"], pr_pred):
    scale("x10", "y10", yl, pos, lab, x1=pos[-1] + 1.5, size=5.5, dy=4.3)
    add(go.Scatter(x=[pos[0] - 0.5], y=[yl - 1.5], mode="text", text=["<b>" + name + "</b>"],
                   textposition="middle left", textfont=dict(size=5.8, color="#111", family=FONT),
                   xaxis="x10", yaxis="y10"))
    add(go.Scatter(x=[total_pred - 0.8], y=[yl - 5], mode="text", text=[pv], textposition="middle left",
                   textfont=dict(size=6.5, color="#ff2020", family=FONT), xaxis="x10", yaxis="y10"))

add(go.Scatter(x=[total_pred, total_pred], y=[tot_y - 2, NOM_Y["pr"][-1]], mode="lines",
               line=dict(color="#ff2020", width=1.4), xaxis="x10", yaxis="y10"))
add(go.Scatter(x=[total_pred] * 4, y=[v - 1.5 for v in NOM_Y["pr"]], mode="markers",
               marker=dict(symbol="triangle-down", size=5, color="#ff2020"), xaxis="x10", yaxis="y10"))
add(go.Scatter(x=[total_pred], y=[tot_y - 5], mode="text", text=[str(total_pred)],
               textfont=dict(size=6.5, color="#ff2020", family=FONT), xaxis="x10", yaxis="y10"))

# ========================= PANEL H : calibration =========================
cal_ticks = [0, 0.2, 0.4, 0.6, 0.8, 1.0]
cal_tt = ["<b>%.1f</b>" % v for v in cal_ticks]
layout_axes["xaxis11"] = axis_base(
    domain=dom_x(515.7, 734), range=lin_range(515.7, 734, 523.3, 0, 725.7, 1), anchor="y11", showline=True,
    mirror=True, linecolor="black", linewidth=1.2, ticks="outside", ticklen=4, tickcolor="black",
    tickvals=cal_ticks, ticktext=cal_tt, tickfont=dict(size=8, color="#111", family=FONT))
layout_axes["yaxis11"] = axis_base(
    domain=dom_y(659, 818), range=lin_range(818, 659, 812.7, 0, 665.7, 1), anchor="x11", showline=True,
    mirror=True, linecolor="black", linewidth=1.2, ticks="outside", ticklen=4, tickcolor="black",
    tickvals=cal_ticks, ticktext=cal_tt, tickangle=-90, tickfont=dict(size=8, color="#111", family=FONT))
shapes.append(dict(type="line", xref="x11", yref="y11", x0=-0.04, y0=-0.04, x1=1.04, y1=1.04,
                   line=dict(color="#d4d4d4", width=1.3)))
rx, ry = [], []
for xv, n in zip(rug_x, rug_n):
    rx += [xv, xv, None]
    ry += [1.04, 1.04 - n * 0.0075, None]
add(go.Scatter(x=rx, y=ry, mode="lines", line=dict(color="#111", width=1), xaxis="x11", yaxis="y11"))

CAL_COLS = ["#66c02e", "#2347b8", "#ff2222"]
cal_sets = [(cal1_x, cal1_y, cal1_lo, cal1_hi), (cal3_x, cal3_y, cal3_lo, cal3_hi), (cal5_x, cal5_y, cal5_lo, cal5_hi)]
for (cx, cy, lo, hi) in cal_sets:
    add(go.Scatter(x=cx, y=cy, mode="markers", marker=dict(size=1, color="rgba(0,0,0,0)"), xaxis="x11", yaxis="y11",
                   error_y=dict(type="data", symmetric=False, array=[h - v for h, v in zip(hi, cy)],
                                arrayminus=[v - l for v, l in zip(cy, lo)], color="#111", thickness=2, width=3)))
for (cx, cy, lo, hi), col in zip(cal_sets, CAL_COLS):
    add(go.Scatter(x=cx, y=cy, mode="lines", line=dict(color=col, width=1.3), xaxis="x11", yaxis="y11"))
for (cx, cy, lo, hi) in cal_sets:
    add(go.Scatter(x=cx, y=cy, mode="markers", xaxis="x11", yaxis="y11",
                   marker=dict(symbol="x", size=6, color="#3a6fd0", line=dict(width=0.6, color="#a8c4ee"))))
for i, (nm, col) in enumerate(zip(cal_names, CAL_COLS)):
    ly = 789 + i * 10
    pline(673, ly, 692, ly, col, 1.5)
    ann(nm, 700, ly, size=8, bold=True, xanchor="left", color="#111")
ann("Observed OS (%)", 476, 739, size=8, angle=-90, color="#111")
ann("Nomogram\u2212predicted OS (%)", 627, 855, size=9, bold=True, color="#111")

# ========================= panel letters =========================
for L, x, y in [("A", 16, 12), ("B", 420, 12), ("C", 15, 222), ("D", 420, 223), ("E", 12, 430),
                ("F", 420, 430), ("G", 10, 632), ("H", 482, 628)]:
    ann(L, x, y, size=23, bold=True, color="#000")

fig.update_layout(
    width=W, height=H, autosize=False, margin=dict(l=0, r=0, t=0, b=0),
    paper_bgcolor="white", plot_bgcolor="rgba(0,0,0,0)", showlegend=False,
    font=dict(family=FONT, color="#111"), annotations=annotations, shapes=shapes, **layout_axes)

fig.write_html("out.html")
